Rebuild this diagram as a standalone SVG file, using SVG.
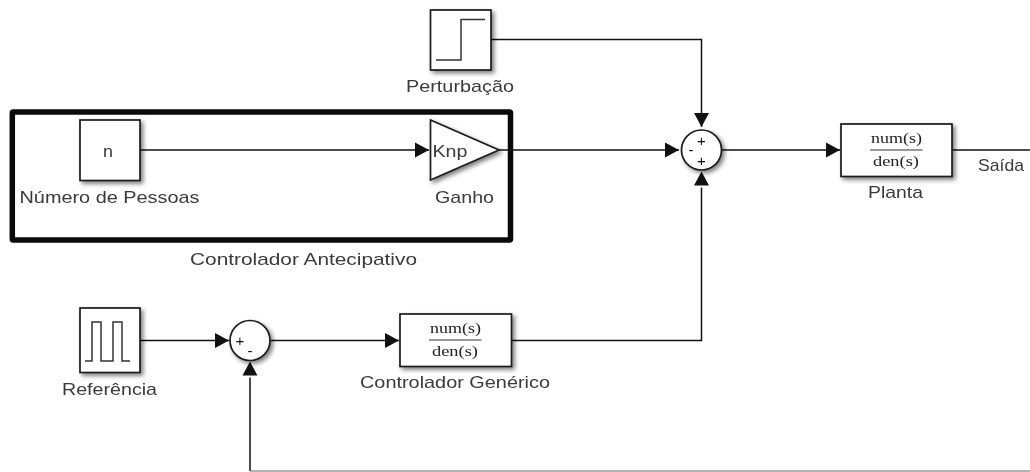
<svg xmlns="http://www.w3.org/2000/svg" width="1030" height="472" viewBox="0 0 1030 472">
<style>
text{font-family:"Liberation Sans",Arial,sans-serif;font-size:17px;fill:#3a3a3a;text-anchor:start;filter:url(#t)}
.f{font-family:"Liberation Serif","Times New Roman",serif;font-size:15px;fill:#222}
.b{fill:#fff;stroke:#1a1a1a;stroke-width:1.7;filter:url(#s)}
.i{fill:none;stroke:#333;stroke-width:1.5}
.w{fill:none;stroke:#111;stroke-width:1.5}
.sg{font-size:15px;fill:#111;text-anchor:middle}
</style>
<defs>
<filter id="s" x="-20%" y="-20%" width="150%" height="150%"><feDropShadow dx="2.5" dy="2.5" stdDeviation="2" flood-color="#000" flood-opacity="0.5"/></filter>
<filter id="t" x="-5%" y="-10%" width="110%" height="120%"><feGaussianBlur stdDeviation="0.35"/></filter>
<marker id="a" markerUnits="userSpaceOnUse" markerWidth="15" markerHeight="16" refX="14" refY="8" orient="auto"><path d="M0 0.5L14 8L0 15.5Z" fill="#111"/></marker>
<marker id="g" markerUnits="userSpaceOnUse" markerWidth="17" markerHeight="16" refX="0" refY="8" orient="auto"><path d="M2 0.5L16 8L2 15.5Z" fill="#111"/></marker>
</defs>
<rect id="frame" x="12.300" y="112" width="498.200" height="128" rx="1" fill="none" stroke="#0a0a0a" stroke-width="5.500"/>
<g id="connectors">
<path class="w" d="M491 39.500H701.500V127" marker-end="url(#a)"/>
<path class="w" d="M140 150H429" marker-end="url(#a)"/>
<path class="w" d="M499 150H679" marker-end="url(#a)"/>
<path class="w" d="M721 150H840" marker-end="url(#a)"/>
<path class="w" d="M952 150H1030"/>
<path class="w" d="M140 340.500H229" marker-end="url(#a)"/>
<path class="w" d="M271 340.500H399" marker-end="url(#a)"/>
<path class="w" d="M512 340.500H701.500V187.500" marker-end="url(#g)"/>
<path class="w" d="M250 471V377.500" marker-end="url(#g)"/>
<path d="M250 471H1030" fill="none" stroke="#666" stroke-width="1.200"/>
</g>
<g id="perturbacao">
<rect class="b" x="430.500" y="10" width="60.500" height="60"/>
<path class="i" d="M436 60H461V19.500H485"/>
<text x="406" y="92" textLength="108" lengthAdjust="spacingAndGlyphs">Perturbação</text>
</g>
<g id="numero-pessoas">
<rect class="b" x="80" y="120" width="60" height="60.500"/>
<text x="103" y="157" textLength="10" lengthAdjust="spacingAndGlyphs">n</text>
<text x="19.500" y="202.500" textLength="180" lengthAdjust="spacingAndGlyphs">Número de Pessoas</text>
</g>
<g id="ganho">
<path class="b" d="M430.500 120L499 150L430.500 180Z"/>
<text x="432.500" y="157" textLength="35" lengthAdjust="spacingAndGlyphs">Knp</text>
<text x="435" y="202.500" textLength="59" lengthAdjust="spacingAndGlyphs">Ganho</text>
</g>
<text id="controlador-antecipativo" x="190" y="265" textLength="227" lengthAdjust="spacingAndGlyphs">Controlador Antecipativo</text>
<g id="soma-planta">
<circle class="b" cx="701.500" cy="150" r="20"/>
<text class="sg" x="701.500" y="145.500">+</text>
<text class="sg" x="691" y="155">-</text>
<text class="sg" x="701.500" y="166">+</text>
</g>
<g id="planta">
<rect class="b" x="841" y="124" width="111" height="52.500"/>
<path d="M870 150H922.500" stroke="#333" stroke-width="1.200"/>
<text class="f" x="871" y="143" textLength="51" lengthAdjust="spacingAndGlyphs">num(s)</text>
<text class="f" x="873" y="166" textLength="46" lengthAdjust="spacingAndGlyphs">den(s)</text>
<text x="868" y="198" textLength="55" lengthAdjust="spacingAndGlyphs">Planta</text>
</g>
<text id="saida" x="978" y="170.500" textLength="46" lengthAdjust="spacingAndGlyphs">Saída</text>
<g id="referencia">
<rect class="b" x="80" y="308" width="60" height="64.500"/>
<path class="i" d="M85 361H92V322H101V361H113V322H122V361H130"/>
<text x="62" y="395" textLength="95" lengthAdjust="spacingAndGlyphs">Referência</text>
</g>
<g id="soma-erro">
<circle class="b" cx="250" cy="340.500" r="20"/>
<text class="sg" x="240" y="346">+</text>
<text class="sg" x="250" y="355.500">-</text>
</g>
<g id="controlador-generico">
<rect class="b" x="400" y="314" width="111.500" height="52.500"/>
<path d="M429 340H481.500" stroke="#333" stroke-width="1.200"/>
<text class="f" x="430" y="333" textLength="51" lengthAdjust="spacingAndGlyphs">num(s)</text>
<text class="f" x="432" y="356" textLength="46" lengthAdjust="spacingAndGlyphs">den(s)</text>
<text x="360" y="388" textLength="190" lengthAdjust="spacingAndGlyphs">Controlador Genérico</text>
</g>
</svg>
